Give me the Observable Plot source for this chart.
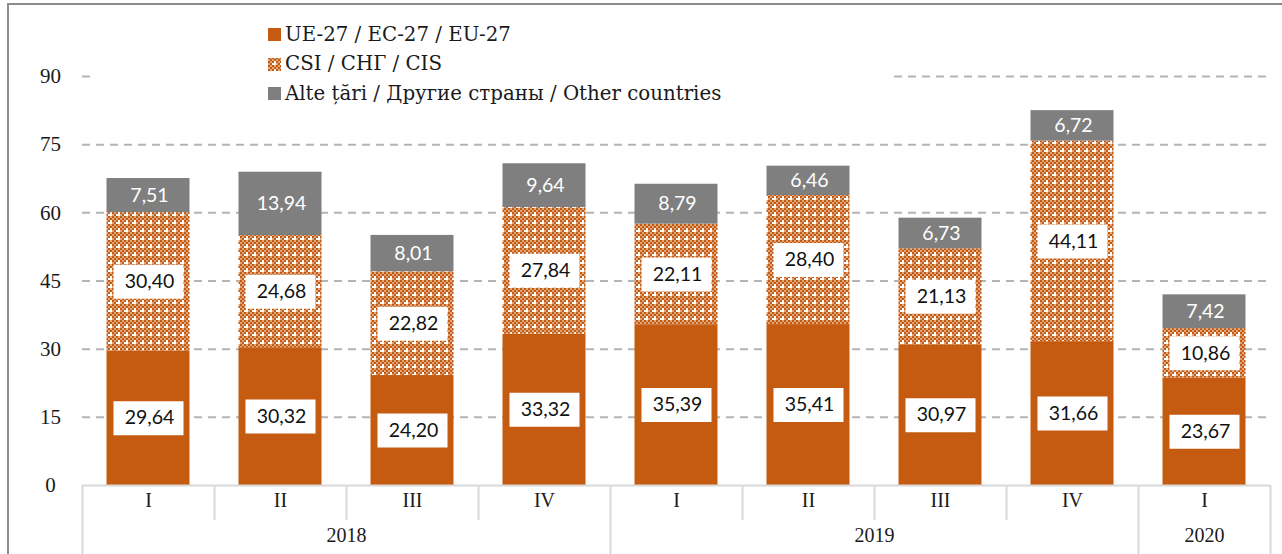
<!DOCTYPE html>
<html>
<head>
<meta charset="utf-8">
<script src="https://cdn.jsdelivr.net/npm/d3@7"></script>
<script src="https://cdn.jsdelivr.net/npm/@observablehq/plot@0.6"></script>
<style>
  html, body { margin: 0; padding: 0; background: #fff; overflow: hidden; }
  #wrap { position: relative; width: 1282px; height: 554px; }
  #frame { position: absolute; left: 7px; top: 3px; width: 1300px; height: 600px;
           border-left: 2px solid #8c8c8c; border-top: 2px solid #8c8c8c; pointer-events: none; }
  #legend { position: absolute; left: 96px; top: 16px; width: 794px; height: 92px; background: #fff; }
  #legend .item { position: absolute; left: 172px; height: 30px; display: flex; align-items: center;
                  font-family: 'DejaVu Serif', serif; font-size: 19.8px; color: #1a1a1a; white-space: nowrap; }
  #legend svg { margin-right: 3px; }
</style>
</head>
<body>
<div id="wrap"><div id="frame"></div></div>
<script>
// ---- data ----
const categories = ["2018-I","2018-II","2018-III","2018-IV","2019-I","2019-II","2019-III","2019-IV","2020-I"];
const quarters = ["I","II","III","IV","I","II","III","IV","I"];
const years = ["2018","2019","2020"];
const seriesNames = ["UE-27 / EC-27 / EU-27", "CSI / СНГ / CIS", "Alte țări / Другие страны / Other countries"];
const euValues = [29.64, 30.32, 24.20, 33.32, 35.39, 35.41, 30.97, 31.66, 23.67];
const cisValues = [30.40, 24.68, 22.82, 27.84, 22.11, 28.40, 21.13, 44.11, 10.86];
const otherValues = [7.51, 13.94, 8.01, 9.64, 8.79, 6.46, 6.73, 6.72, 7.42];
const yTicks = [0, 15, 30, 45, 60, 75, 90];

const ORANGE = "#C55A11", GRAY = "#7F7F7F";
const fmt = v => v.toFixed(2).replace(".", ",");

// build stacked rows
const seriesValues = [euValues, cisValues, otherValues];
const rows = [];
categories.forEach((cat, i) => {
  let base = 0;
  seriesValues.forEach((vals, s) => {
    const v = vals[i];
    rows.push({cat, series: seriesNames[s], s, value: v, y1: base, y2: base + v, mid: base + v / 2});
    base += v;
  });
});
const boxRows = rows.filter(d => d.s < 2);
const grayRows = rows.filter(d => d.s === 2);

// year label anchors: 2018 & 2019 centred on boundary after II, 2020 centred on its only quarter
const yearAnchorsMid = [{cat: "2018-II", year: years[0]}, {cat: "2019-II", year: years[1]}];
const yearAnchorsCenter = [{cat: "2020-I", year: years[2]}];

const boxSymbol = { draw(ctx) { ctx.rect(-35, -17, 70, 34); } };
const SEP = "#d9d9d9";

const chart = Plot.plot({
  width: 1282, height: 554,
  marginLeft: 82, marginRight: 12, marginTop: 76, marginBottom: 69,
  x: {domain: categories, padding: 0, axis: null},
  y: {domain: [0, 90], axis: null},
  color: {domain: seriesNames, range: [ORANGE, "url(#csi)", GRAY]},
  style: {fontFamily: "'Liberation Serif', serif", fontSize: "20px", color: "#1a1a1a", background: "transparent"},
  marks: [
    Plot.ruleY(yTicks.filter(t => t > 0), {stroke: "#b4b4b4", strokeWidth: 2, strokeDasharray: "8,6"}),
    Plot.barY(rows, {x: "cat", y1: "y1", y2: "y2", fill: "series", insetLeft: 24.5, insetRight: 24.5}),
    Plot.ruleY([0], {stroke: SEP, strokeWidth: 2}),
    // category separators
    Plot.ruleX(categories.filter((c, i) => quarters[i] !== "I"), {x: d => d, dx: -66, y1: 0, y2: 0, insetBottom: -35, stroke: SEP, strokeWidth: 2}),
    Plot.ruleX(categories.filter((c, i) => quarters[i] === "I"), {x: d => d, dx: -66, y1: 0, y2: 0, insetBottom: -70, stroke: SEP, strokeWidth: 2}),
    Plot.ruleX(categories.slice(-1), {x: d => d, dx: 66, y1: 0, y2: 0, insetBottom: -70, stroke: SEP, strokeWidth: 2}),
    // y tick labels
    Plot.text(yTicks, {y: d => d, text: d => String(d), frameAnchor: "left", dx: -32, textAnchor: "middle", fontSize: 21, fill: "#1a1a1a"}),
    // x labels
    Plot.text(categories, {x: d => d, text: (d, i) => quarters[i], frameAnchor: "bottom", dy: 21, fontSize: 20, fill: "#1a1a1a"}),
    Plot.text(yearAnchorsMid, {x: "cat", text: "year", frameAnchor: "bottom", dy: 56, dx: 66, fontSize: 20, fill: "#1a1a1a"}),
    Plot.text(yearAnchorsCenter, {x: "cat", text: "year", frameAnchor: "bottom", dy: 56, fontSize: 20, fill: "#1a1a1a"}),
    // data labels
    Plot.dot(boxRows, {x: "cat", y: "mid", symbol: boxSymbol, fill: "white", stroke: "none"}),
    Plot.text(boxRows, {x: "cat", y: "mid", text: d => fmt(d.value), fill: "#111", fontFamily: "Lato, sans-serif", fontSize: 19.5, dx: 1}),
    Plot.text(grayRows, {x: "cat", y: "mid", text: d => fmt(d.value), fill: "white", fontFamily: "Lato, sans-serif", fontSize: 19.5, dx: 1})
  ]
});

// pattern definition for CIS: 2px orange/white checker with occasional white "+" dots
const defs = document.createElementNS("http://www.w3.org/2000/svg", "defs");
defs.innerHTML = `<pattern id="csi" width="8" height="8" patternUnits="userSpaceOnUse">
  <rect width="8" height="8" fill="#fff"/>
  <path fill="${ORANGE}" d="M0 0h2v2h-2z M4 0h2v2h-2z M2 2h2v2h-2z M6 2h2v2h-2z M0 4h2v2h-2z M4 4h2v2h-2z M2 6h2v2h-2z"/>
  <path fill="${ORANGE}" fill-opacity="0.55" d="M2 0h2v2h-2z M6 0h2v2h-2z M0 2h2v2h-2z M4 2h2v2h-2z M2 4h2v2h-2z M0 6h2v2h-2z"/>
</pattern>`;
const svgEl = chart.tagName.toLowerCase() === "svg" ? chart : chart.querySelector("svg");
svgEl.insertBefore(defs, svgEl.firstChild);

const wrap = document.getElementById("wrap");
wrap.insertBefore(chart, wrap.firstChild);

// legend (overlay inside plot area, white background like the original)
const legend = document.createElement("div");
legend.id = "legend";
const swatchFills = [ORANGE, "url(#csi)", GRAY];
seriesNames.forEach((name, i) => {
  const item = document.createElement("div");
  item.className = "item";
  item.style.top = (3 + i * 29.5) + "px";
  item.innerHTML = `<svg width="14" height="14"><rect width="13" height="13" y="1" fill="${swatchFills[i]}"/></svg><span>${name}</span>`;
  legend.appendChild(item);
});
wrap.appendChild(legend);
</script>
</body>
</html>
